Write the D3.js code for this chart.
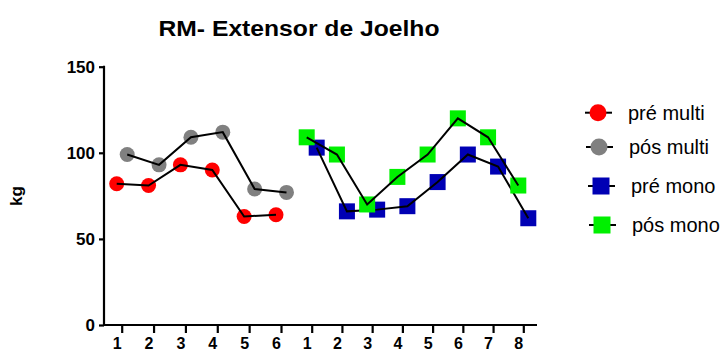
<!DOCTYPE html>
<html>
<head>
<meta charset="utf-8">
<script src="https://cdn.jsdelivr.net/npm/d3@7/dist/d3.min.js"></script>
<style>
  html, body { margin: 0; padding: 0; background: #fff; }
  svg { display: block; font-family: "Liberation Sans", Arial, sans-serif; }
</style>
</head>
<body>
<svg id="chart" width="725" height="354"></svg>
<script>
// Sessions of each protocol (x tick labels)
const multiSessions = [1, 2, 3, 4, 5, 6];
const monoSessions = [1, 2, 3, 4, 5, 6, 7, 8];

// 1RM knee extension, kg
const preMulti  = [82, 81, 93, 90, 63, 64];
const posMulti  = [99, 93, 109, 112, 79, 77];
const preMono   = [103, 66, 67, 69, 83, 99, 92, 62];
const posMono   = [109, 99, 70, 86, 99, 120, 109, 81];

const yTicks = [0, 50, 100, 150];
const seriesNames = ["pré multi", "pós multi", "pré mono", "pós mono"];

const svg = d3.select("#chart");

const y = d3.scaleLinear().domain([0, 150]).range([325, 66.7]);
const xMulti = d3.scaleLinear().domain([1, 6]).range([121.7, 281]);
const xMono = d3.scaleLinear().domain([1, 8]).range([311.7, 523.3]);

const series = [
  { name: seriesNames[0], sessions: multiSessions, values: preMulti, x: xMulti, dx: -5, shape: "circle", color: "#ff0000" },
  { name: seriesNames[1], sessions: multiSessions, values: posMulti, x: xMulti, dx: 5.5, shape: "circle", color: "#808080" },
  { name: seriesNames[2], sessions: monoSessions, values: preMono, x: xMono, dx: 5, shape: "square", color: "#0000b4" },
  { name: seriesNames[3], sessions: monoSessions, values: posMono, x: xMono, dx: -5, shape: "square", color: "#00f000" }
];

// Title
svg.append("text")
  .attr("x", 299).attr("y", 36)
  .attr("text-anchor", "middle")
  .attr("font-size", 21.5).attr("font-weight", "bold")
  .attr("textLength", 281).attr("lengthAdjust", "spacingAndGlyphs")
  .text("RM- Extensor de Joelho");

// Y axis
const yAxis = svg.append("g")
  .attr("transform", "translate(104,0)")
  .call(d3.axisLeft(y).tickValues(yTicks).tickSize(5).tickPadding(4).tickFormat(d3.format("d")));
yAxis.select(".domain").attr("stroke", "#000").attr("stroke-width", 2.2)
  .attr("d", `M0,${y(150) - 1}V${325 + 1}`);
yAxis.selectAll(".tick line").attr("stroke", "#000").attr("stroke-width", 2.2);
yAxis.selectAll(".tick text").attr("font-size", 17).attr("font-weight", "bold")
  .attr("font-family", "Liberation Sans, Arial, sans-serif").attr("fill", "#000");

svg.append("text")
  .attr("transform", "translate(22,196) rotate(-90)")
  .attr("text-anchor", "middle")
  .attr("font-size", 17).attr("font-weight", "bold")
  .text("kg");

// X axis baseline
svg.append("line")
  .attr("x1", 103).attr("x2", 537).attr("y1", 325).attr("y2", 325)
  .attr("stroke", "#000").attr("stroke-width", 2.2);

function drawXAxis(scale, ticks) {
  const g = svg.append("g")
    .attr("transform", "translate(0,325)")
    .call(d3.axisBottom(scale).tickValues(ticks).tickSize(8).tickPadding(5).tickFormat(d3.format("d")));
  g.select(".domain").remove();
  g.selectAll(".tick line").attr("stroke", "#000").attr("stroke-width", 2.2);
  g.selectAll(".tick text").attr("font-size", 16).attr("font-weight", "bold")
    .attr("font-family", "Liberation Sans, Arial, sans-serif").attr("fill", "#000")
    .attr("x", -5);
}
drawXAxis(xMulti, multiSessions);
drawXAxis(xMono, monoSessions);

function drawMarker(g, shape, color, cx, cy, size) {
  if (shape === "circle") {
    g.append("circle").attr("cx", cx).attr("cy", cy).attr("r", size / 2).attr("fill", color);
  } else {
    g.append("rect").attr("x", cx - size / 2).attr("y", cy - size / 2)
      .attr("width", size).attr("height", size).attr("fill", color);
  }
}

const line = d3.line();
series.forEach(s => {
  const pts = s.values.map((v, i) => [s.x(s.sessions[i]) + s.dx, y(v)]);
  const g = svg.append("g");
  pts.forEach(p => drawMarker(g, s.shape, s.color, p[0], p[1], s.shape === "circle" ? 15 : 16));
  g.append("path").attr("d", line(pts)).attr("fill", "none")
    .attr("stroke", "#000").attr("stroke-width", 2);
});

// Legend
const legendRows = [112.7, 147, 186, 225];
const legendX = [598, 599, 601, 602];
series.forEach((s, i) => {
  const g = svg.append("g");
  g.append("line").attr("x1", legendX[i] - 13).attr("x2", legendX[i] + 14)
    .attr("y1", legendRows[i]).attr("y2", legendRows[i])
    .attr("stroke", "#000").attr("stroke-width", 2);
  drawMarker(g, s.shape, s.color, legendX[i], legendRows[i], 17);
  g.append("text")
    .attr("x", legendX[i] + 30).attr("y", legendRows[i] + 7)
    .attr("font-size", 20).attr("fill", "#000")
    .text(s.name);
});
</script>
</body>
</html>
